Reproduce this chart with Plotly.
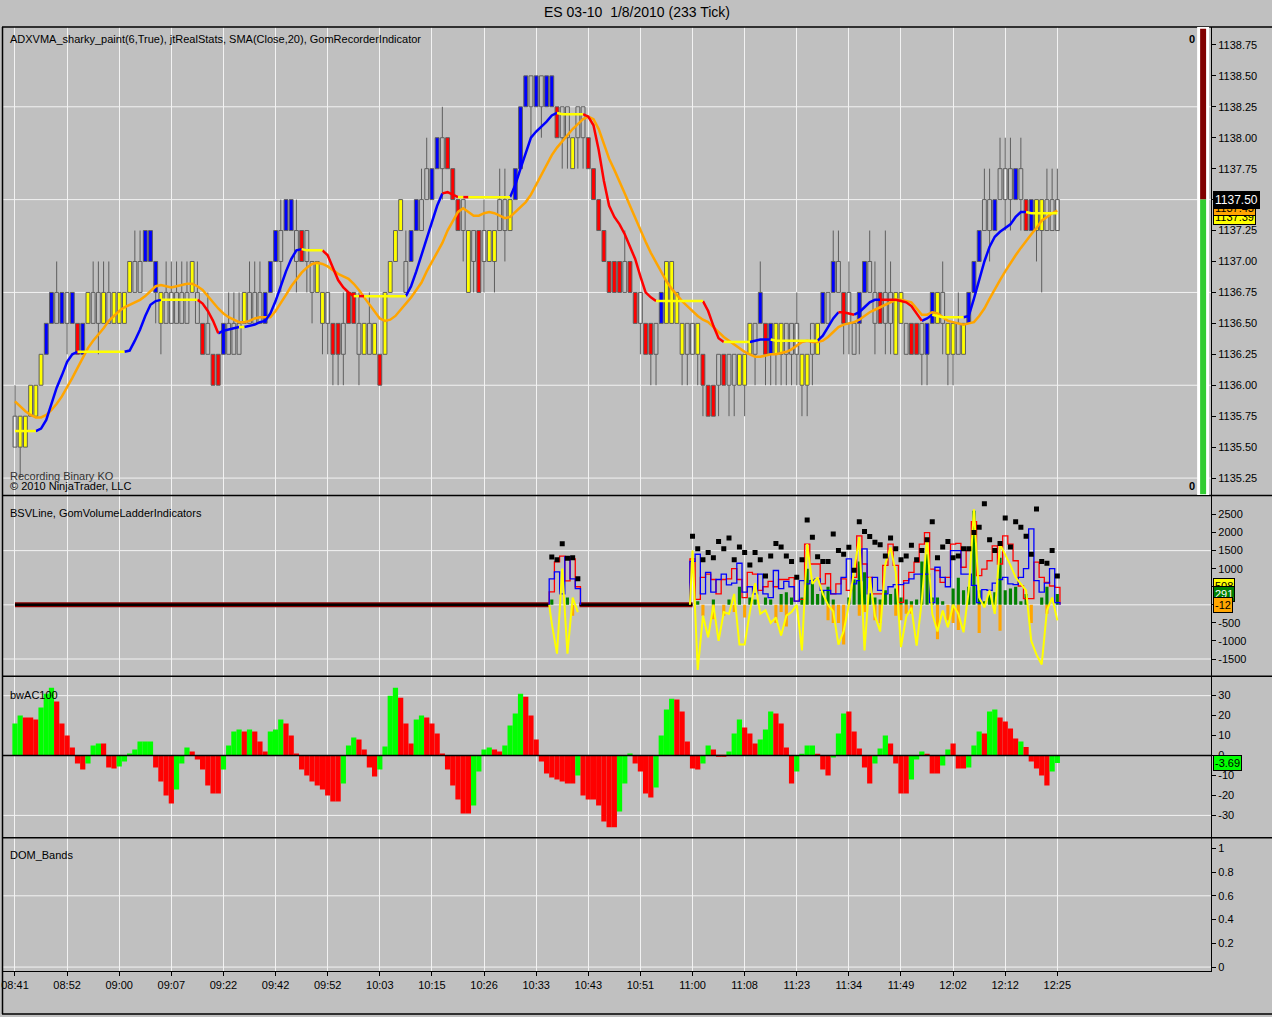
import plotly.graph_objects as go

W, H = 1272, 1017
BG = '#C0C0C0'
FONT = 'Liberation Sans, Arial, sans-serif'

# ---------------- data ----------------
time_labels = ["08:41", "08:52", "09:00", "09:07", "09:22", "09:42", "09:52", "10:03", "10:15",
               "10:26", "10:33", "10:43", "10:51", "11:00", "11:08", "11:23", "11:34", "11:49",
               "12:02", "12:12", "12:25"]
label_bars = [0, 10, 20, 30, 40, 50, 60, 70, 80, 90, 100, 110, 120, 130, 140, 150, 160, 170, 180, 190, 200]

body_lo = [
    1135.50, 1135.50, 1135.50, 1135.75, 1135.75, 1136.00, 1136.25, 1136.50, 1136.50, 1136.50,
    1136.50, 1136.50, 1136.25, 1136.25, 1136.50, 1136.50, 1136.50, 1136.50, 1136.50, 1136.50,
    1136.50, 1136.50, 1136.75, 1136.75, 1136.75, 1137.00, 1137.00, 1136.75, 1136.50, 1136.50,
    1136.50, 1136.50, 1136.50, 1136.50, 1136.75, 1136.50, 1136.25, 1136.25, 1136.00, 1136.00,
    1136.25, 1136.25, 1136.25, 1136.25, 1136.50, 1136.50, 1136.50, 1136.50, 1136.50, 1136.75,
    1137.00, 1137.00, 1137.25, 1137.25, 1137.00, 1137.00, 1137.00, 1136.75, 1136.75, 1136.50,
    1136.50, 1136.25, 1136.25, 1136.25, 1136.50, 1136.50, 1136.25, 1136.25, 1136.25, 1136.25,
    1136.00, 1136.25, 1136.75, 1137.00, 1137.25, 1136.75, 1137.00, 1137.25, 1137.25, 1137.50,
    1137.50, 1137.75, 1137.75, 1137.75, 1137.50, 1137.25, 1137.25, 1136.75, 1137.00, 1136.75,
    1137.00, 1137.00, 1137.00, 1137.25, 1137.25, 1137.25, 1137.50, 1137.75, 1138.25, 1138.25,
    1138.25, 1138.25, 1138.25, 1138.25, 1138.00, 1138.00, 1138.00, 1137.75, 1138.00, 1138.00,
    1137.75, 1137.50, 1137.25, 1137.00, 1136.75, 1136.75, 1136.75, 1136.75, 1136.75, 1136.50,
    1136.50, 1136.25, 1136.25, 1136.25, 1136.50, 1136.50, 1136.50, 1136.50, 1136.25, 1136.25,
    1136.25, 1136.25, 1136.00, 1135.75, 1135.75, 1136.00, 1136.00, 1136.00, 1136.00, 1136.00,
    1136.00, 1136.25, 1136.25, 1136.50, 1136.25, 1136.25, 1136.25, 1136.25, 1136.25, 1136.25,
    1136.25, 1136.00, 1136.00, 1136.25, 1136.25, 1136.50, 1136.50, 1136.75, 1136.75, 1136.50,
    1136.50, 1136.25, 1136.50, 1136.75, 1136.75, 1136.50, 1136.50, 1136.50, 1136.50, 1136.25,
    1136.50, 1136.25, 1136.25, 1136.25, 1136.25, 1136.25, 1136.50, 1136.50, 1136.50, 1136.25,
    1136.25, 1136.25, 1136.25, 1136.50, 1136.75, 1137.00, 1137.25, 1137.25, 1137.25, 1137.50,
    1137.50, 1137.50, 1137.50, 1137.50, 1137.25, 1137.25, 1137.25, 1137.25, 1137.25, 1137.25, 1137.25]

body_hi = [
    1135.75, 1135.75, 1135.75, 1136.00, 1136.00, 1136.25, 1136.50, 1136.75, 1136.75, 1136.75,
    1136.75, 1136.75, 1136.50, 1136.50, 1136.75, 1136.75, 1136.75, 1136.75, 1136.75, 1136.75,
    1136.75, 1136.75, 1137.00, 1137.00, 1137.00, 1137.25, 1137.25, 1137.00, 1136.75, 1136.75,
    1136.75, 1136.75, 1136.75, 1136.75, 1137.00, 1136.75, 1136.50, 1136.50, 1136.25, 1136.25,
    1136.50, 1136.50, 1136.50, 1136.50, 1136.75, 1136.75, 1136.75, 1136.75, 1136.75, 1137.00,
    1137.25, 1137.25, 1137.50, 1137.50, 1137.25, 1137.25, 1137.25, 1137.00, 1137.00, 1136.75,
    1136.75, 1136.50, 1136.50, 1136.50, 1136.75, 1136.75, 1136.50, 1136.50, 1136.50, 1136.50,
    1136.25, 1136.75, 1137.00, 1137.25, 1137.50, 1137.00, 1137.25, 1137.50, 1137.50, 1137.75,
    1137.75, 1138.00, 1138.00, 1138.00, 1137.75, 1137.50, 1137.50, 1137.25, 1137.25, 1137.25,
    1137.25, 1137.25, 1137.25, 1137.50, 1137.50, 1137.50, 1137.75, 1138.25, 1138.50, 1138.50,
    1138.50, 1138.50, 1138.50, 1138.50, 1138.25, 1138.25, 1138.25, 1138.00, 1138.25, 1138.25,
    1138.00, 1137.75, 1137.50, 1137.25, 1137.00, 1137.00, 1137.00, 1137.00, 1137.00, 1136.75,
    1136.75, 1136.50, 1136.50, 1136.50, 1136.75, 1137.00, 1137.00, 1136.75, 1136.50, 1136.50,
    1136.50, 1136.50, 1136.25, 1136.00, 1136.00, 1136.25, 1136.25, 1136.25, 1136.25, 1136.25,
    1136.25, 1136.50, 1136.50, 1136.75, 1136.50, 1136.50, 1136.50, 1136.50, 1136.50, 1136.50,
    1136.50, 1136.25, 1136.25, 1136.50, 1136.50, 1136.75, 1136.75, 1137.00, 1137.00, 1136.75,
    1136.75, 1136.50, 1136.75, 1137.00, 1137.00, 1136.75, 1136.75, 1136.75, 1136.75, 1136.75,
    1136.75, 1136.50, 1136.50, 1136.50, 1136.50, 1136.50, 1136.75, 1136.75, 1136.75, 1136.50,
    1136.50, 1136.50, 1136.50, 1136.75, 1137.00, 1137.25, 1137.50, 1137.50, 1137.50, 1137.75,
    1137.75, 1137.75, 1137.75, 1137.75, 1137.50, 1137.50, 1137.50, 1137.50, 1137.50, 1137.50, 1137.50]

# body paint: B blue, R red, Y yellow, H hollow
bar_paint = ("HYYYYYBBHB" "HBRBYHHYHY" "YYYHHBBBYH" "HHHHYHRHRR" "BHHHYHHHBB"
             "BHBBHRHHYY" "HRRHRRHYHY" "RYYYYHBBHH" "BBHRRRHYHR" "HYYHHYBBBH"
             "BHBBRHHYHH" "RRRRRRRHRR" "HRRHBYYYYH" "HYRRRHRHHY" "YYHBRBYYHH"
             "HYYHYBHBHR" "HHBBHHRHHY" "YHRRHBBYHY" "YHYBBBHHBH" "HHBHRBYYHHH")
# wick extension beyond the body, in ticks
wick_up_ticks = ("1000000010" "0000011110" "0001100001" "1111010100" "0111011100"
                 "0100100000" "0001001010" "0000010011" "0010000000" "1001100000"
                 "0000000000" "0000000100" "0000000000" "0000000000" "0001000000"
                 "1000000110" "1000110210" "0000000010" "0100001101" "11010000111")
wick_dn_ticks = ("0100000000" "1000001000" "0000000110" "0000000000" "0000000000"
                 "0100101101" "1111001000" "0000000000" "0010001010" "1010100001"
                 "0100011011" "0000000000" "1011000011" "0110010110" "1010111111"
                 "1111000001" "1010010110" "0000110011" "1000000100" "11010012000")
TICK = 0.25

sma20 = [
    1135.87, 1135.83, 1135.79, 1135.76, 1135.74, 1135.74, 1135.76, 1135.80, 1135.85, 1135.91,
    1135.98, 1136.06, 1136.14, 1136.22, 1136.30, 1136.36, 1136.41, 1136.46, 1136.52, 1136.56,
    1136.60, 1136.63, 1136.65, 1136.67, 1136.69, 1136.72, 1136.76, 1136.80, 1136.81, 1136.80,
    1136.79, 1136.80, 1136.81, 1136.82, 1136.82, 1136.80, 1136.77, 1136.72, 1136.67, 1136.62,
    1136.58, 1136.55, 1136.53, 1136.51, 1136.51, 1136.52, 1136.54, 1136.55, 1136.55, 1136.55,
    1136.60, 1136.66, 1136.73, 1136.80, 1136.86, 1136.91, 1136.95, 1136.98, 1136.99, 1136.98,
    1136.96, 1136.93, 1136.90, 1136.88, 1136.86, 1136.82, 1136.77, 1136.71, 1136.65, 1136.59,
    1136.54, 1136.52, 1136.53, 1136.56, 1136.61, 1136.66, 1136.71, 1136.77, 1136.83, 1136.92,
    1137.00, 1137.08, 1137.15, 1137.25, 1137.33, 1137.40, 1137.43, 1137.40, 1137.37, 1137.37,
    1137.39, 1137.40, 1137.39, 1137.37, 1137.35, 1137.36, 1137.40, 1137.44, 1137.48, 1137.54,
    1137.62, 1137.70, 1137.78, 1137.86, 1137.92, 1137.97, 1138.02, 1138.07, 1138.11, 1138.15,
    1138.17, 1138.15, 1138.07, 1137.95, 1137.83, 1137.74, 1137.65, 1137.55, 1137.45, 1137.35,
    1137.25, 1137.16, 1137.07, 1136.99, 1136.91, 1136.84, 1136.78, 1136.73, 1136.68, 1136.64,
    1136.60, 1136.56, 1136.53, 1136.51, 1136.47, 1136.43, 1136.39, 1136.36, 1136.33, 1136.30,
    1136.27, 1136.25, 1136.23, 1136.23, 1136.24, 1136.25, 1136.25, 1136.26, 1136.27, 1136.29,
    1136.32, 1136.35, 1136.36, 1136.35, 1136.35, 1136.36, 1136.39, 1136.43, 1136.47, 1136.49,
    1136.50, 1136.51, 1136.53, 1136.56, 1136.59, 1136.61, 1136.63, 1136.65, 1136.67, 1136.69,
    1136.69, 1136.68, 1136.67, 1136.62, 1136.57, 1136.57, 1136.59, 1136.58, 1136.55, 1136.52,
    1136.51, 1136.50, 1136.49, 1136.50, 1136.51, 1136.56, 1136.62, 1136.70, 1136.78, 1136.85,
    1136.92, 1136.99, 1137.05, 1137.11, 1137.17, 1137.22, 1137.27, 1137.33, 1137.36, 1137.39, 1137.41]

adxvma = [
    1135.63, 1135.63, 1135.63, 1135.63, 1135.63, 1135.65, 1135.72, 1135.85, 1135.98, 1136.08,
    1136.19, 1136.25, 1136.27, 1136.27, 1136.27, 1136.27, 1136.27, 1136.27, 1136.27, 1136.27,
    1136.27, 1136.27, 1136.28, 1136.36, 1136.45, 1136.56, 1136.65, 1136.68, 1136.69, 1136.69,
    1136.69, 1136.69, 1136.69, 1136.69, 1136.69, 1136.69, 1136.66, 1136.60, 1136.52, 1136.42,
    1136.44, 1136.45, 1136.46, 1136.47, 1136.47, 1136.48, 1136.49, 1136.51, 1136.52, 1136.58,
    1136.68, 1136.80, 1136.92, 1137.02, 1137.09, 1137.10, 1137.09, 1137.09, 1137.09, 1137.09,
    1137.05, 1136.95, 1136.85, 1136.79, 1136.75, 1136.72, 1136.72, 1136.72, 1136.72, 1136.72,
    1136.72, 1136.72, 1136.72, 1136.72, 1136.72, 1136.72, 1136.80, 1136.92, 1137.05, 1137.19,
    1137.32, 1137.45, 1137.55, 1137.56, 1137.54, 1137.52, 1137.52, 1137.52, 1137.52, 1137.52,
    1137.52, 1137.52, 1137.52, 1137.52, 1137.52, 1137.52, 1137.62, 1137.75, 1137.88, 1138.00,
    1138.05, 1138.09, 1138.13, 1138.18, 1138.20, 1138.19, 1138.19, 1138.19, 1138.19, 1138.19,
    1138.17, 1138.10, 1137.90, 1137.65, 1137.45, 1137.36, 1137.30, 1137.22, 1137.12, 1137.02,
    1136.88, 1136.75, 1136.71, 1136.68, 1136.68, 1136.68, 1136.68, 1136.68, 1136.68, 1136.68,
    1136.68, 1136.68, 1136.68, 1136.60, 1136.48, 1136.38, 1136.35, 1136.35, 1136.35, 1136.35,
    1136.35, 1136.35, 1136.36, 1136.37, 1136.37, 1136.37, 1136.36, 1136.36, 1136.36, 1136.36,
    1136.36, 1136.36, 1136.36, 1136.36, 1136.36, 1136.40, 1136.47, 1136.54, 1136.59, 1136.59,
    1136.58, 1136.57, 1136.59, 1136.63, 1136.67, 1136.69, 1136.69, 1136.69, 1136.69, 1136.69,
    1136.68, 1136.67, 1136.64, 1136.58, 1136.52, 1136.54, 1136.57, 1136.56, 1136.55, 1136.55,
    1136.55, 1136.55, 1136.55, 1136.56, 1136.70, 1136.85, 1137.00, 1137.12, 1137.20, 1137.24,
    1137.27, 1137.30, 1137.36, 1137.40, 1137.40, 1137.39, 1137.39, 1137.39, 1137.39, 1137.39, 1137.39]
adx_paint = ("YYYYYBBBBB" "BBBYYYYYYY" "YYBBBBBBBY" "YYYYYYRRRR" "BBBBYBBBBB"
             "BBBBBBYYYY" "RRRRRRYRYY" "YYYYYYBBBB" "BBBRRRYRYY" "YYYYYYBBBB"
             "BBBBBYYYYY" "RRRRRRRRRR" "RRRRYYYYYY" "YYYRRRRYYY" "YYBBBBYYYY"
             "YYYYYBBBBR" "RRBBBBBRRR" "RRRRRBBYYY" "YYYBBBBBBB" "BBBBBYYYYYY")

# BSVLine / GomVolumeLadder (only where volume was recorded)
bsv_bars = list(range(103, 109)) + list(range(130, 201))
bsv_flat_ranges = [(0, 102.6), (108.3, 130)]
bsv_red = [360, 1190, 1350, 660, 1270, 500,
           1270, 150, 760, 850, 700, 300, 700, 720, 1000, 700, 200, 900, 850, 400, 500, 650, 500, 700, 700, 750, 100,
           150, 1680, 1130, 1130, 580, 860, 300, 580, 720, 400, 760, 1910, 1130, 760, 300, 300, 1090, 1680, 1090, 70,
           670, 900, 1180, 1680, 2000, 990, 950, 620, 760, 1680, 1700, 1040, 1500, 2300, 810, 990, 1220, 1630, 1130, 1910,
           1680, 1220, 520, 170, 170, 1180, 760, 620, 520, 480]
bsv_blue = [720, 910, 300, 1330, 720, 450,
            1200, 1400, 300, 900, 350, 700, 850, 550, 600, 1150, 350, 500, 300, 850, 300, 200, 950, 450, 650, 500, 100,
            670, 580, 670, 720, 400, 400, 300, 300, 760, 1270, 580, 670, 1550, 300, 760, 400, 300, 500, 560, 560,
            600, 720, 850, 850, 850, 60, 1040, 760, 500, 1500, 1500, 850, 850, 540, 60, 420, 400, 600, 700, 760,
            580, 560, 760, 1000, 2100, 670, 350, 600, 1000, 60]
bsv_dots = [1320, 1250, 1690, 1290, 1300, 720,
            1900, 1550, 1250, 1450, 1300, 1750, 1550, 1850, 1250, 1600, 1450, 1100, 1450, 1250, 800, 1350, 1700, 1600, 1350, 1200, 760,
            1250, 2350, 1870, 1330, 1200, 1200, 1960, 1500, 1400, 1590, 960, 2300, 2030, 1890, 1730, 1660, 1350, 1850, 1550, 1250,
            1350, 1650, 1250, 1500, 1800, 2300, 1300, 1600, 1750, 1300, 1350, 1550, 1550, 2000, 2150, 2800, 1800, 1500, 1700, 2400,
            1600, 2300, 2150, 1900, 1400, 2650, 1200, 1150, 1500, 800]
bsv_yellow = [-520, -1350, 1000, -1350, 200, -200,
              1500, -1800, -300, -900, 0, -1000, -200, -250, 300, -1100, -1100, -200, 600, -250, -150, -500, -350, -850, -300, -200, 0,
              -1260, 1680, 580, 760, 300, 0, -180, -1100, -730, 0, 950, 1870, -1260, 760, -300, -740, 1130, 1590, 900, -1170,
              -330, -80, -1130, 120, 1870, -250, -740, -160, -620, 0, -250, -760, 400, 2640, 200, -70, 400, -250, 1680, 1400,
              1100, 760, 580, 400, -1000, -1380, -1650, -160, 200, -430]
bsv_green = [150, 0, 0, 200, 0, 0,
             0, 100, 0, 0, 150, 0, 0, 150, 0, 500, 0, 200, 150, 0, 200, 150, 0, 300, 350, 200, 0,
             200, 1000, 700, 300, 400, 500, 150, 0, 0, 200, 700, 1200, 900, 300, 200, 150, 400, 300, 450, 200,
             150, 100, 150, 1200, 1400, 200, 200, 100, 0, 450, 750, 400, 500, 2600, 400, 100, 300, 350, 1300, 400,
             450, 500, 100, 300, 0, 0, 200, 500, 0, 300]
bsv_orange = [0, 0, 0, 0, -300, 0,
              0, 0, -300, 0, -400, 0, -300, 0, -200, 0, -350, 0, 0, 0, 0, 0, -500, -200, -600, 0, 0,
              0, 0, 0, 0, 0, -430, -500, -500, -1100, 0, 0, -300, -200, 0, -430, -500, 0, 0, -300, -430,
              -250, -250, 0, 0, 0, 0, -950, 0, -430, -500, -700, 0, 0, 0, -780, 0, 0, 0, -720, 0,
              0, 0, 0, 0, -500, 0, 0, -250, 0, 0]

bwac = [16, 20, 19, 19, 18, 24, 31, 34, 27, 16,
        10, 4, -4, -7, -4, 5, 6, 6, -6, -6.5,
        -5.5, -3, 1, 3, 7, 7, 7, -6, -13, -20,
        -24, -17, -4, 4, 2, -2, -7, -15, -19, -19,
        -7, 5, 12, 13, 12, 13, 12, 7, 2, 12,
        13, 18, 16, 10, 1, -7, -10, -13, -15, -17,
        -20, -23, -23, -14, 5, 9, 8, 3, -6, -10.5,
        -7, 4.5, 30, 34, 29, 16, 6, 18, 20, 19,
        16, 11, 1, -7, -15, -22, -29, -29, -25, -8,
        3, 4, 3, 2, 5, 15, 21, 31, 29.5, 20,
        8, -3, -9, -11, -12, -13, -14, -14, -10, -20,
        -22, -22, -25, -33, -36, -36, -28, -14, 1, -4,
        -8, -19, -21, -16, 10, 23, 28.5, 28, 22, 7,
        -6.5, -7, -4, 5, 3, -0.5, -0.5, 2, 11, 18,
        14, 11, 6, 8, 13, 22, 21, 16, 4, -14,
        -8, 0.5, 5, 5, 0.5, -7, -10, -1, 11, 21,
        22, 12, 3.5, -6, -14, -4, 3.5, 10, 6, -4,
        -19, -19, -12, -2, 2, 0.5, -9, -9, -5, 3,
        6, -6.5, -6.5, -6, 5, 12, 11, 22, 23, 19,
        17, 13.5, 8.5, 7, 4.3, -3, -6.5, -10, -15, -8, -3.69]
bwac_paint = ("GGRRRGGGRR" "RRRRGGGRRR" "GGGGGGGRRR" "RGGGRRRRRR" "GGGGRGRRRG"
              "GGRRRRRRRR" "RRRGGGRRRR" "GGGGRRRGGR" "RRRRRRRRGG" "GGRRGGGGRR"
              "RRRRRRRRGR" "RRRRRRGGGR" "RRRGGGGRRR" "RRGGRRRGGG" "RRRGGGRRRR"
              "GGGGRRRGGG" "RRRRRGGGRR" "RRGGGRRRGG" "RRRGGGRGGR" "RRRGRRRRRGG")

price_ticks = [1135.25, 1135.50, 1135.75, 1136.00, 1136.25, 1136.50, 1136.75, 1137.00, 1137.25,
               1137.50, 1137.75, 1138.00, 1138.25, 1138.50, 1138.75]
price_grid = [1135.25, 1136.00, 1136.75, 1137.50, 1138.25]
bsv_ticks = [-1500, -1000, -500, 0, 500, 1000, 1500, 2000, 2500]
bsv_tick_text = ['-1500', '-1000', '-500', '', '', '1000', '1500', '2000', '2500']  # 0 and 500 hidden under the value tags
bsv_grid = [-1500, 0, 1500]
bwac_ticks = [-30, -20, -10, 0, 10, 20, 30]
bwac_grid = [-30, 30]
dom_ticks = [0, 0.2, 0.4, 0.6, 0.8, 1]
dom_grid = [0, 0.6]

last_price = 1137.50
last_sma = 1137.43
last_adx = 1137.39
bsv_last = [(508, '#FFFF00', 'black'), (291, '#008000', 'white'), (-12, '#FFA500', 'black')]
bwac_last = -3.69

# ---------------- geometry helpers ----------------
def py(p):
    return 1 - p / H

def pxp(p):
    return p / W

X_RANGE = [-2.3, 229.5]
X_DOMAIN = [pxp(1), pxp(1211)]

fig = go.Figure()
n = len(body_lo)
bars = list(range(n))
PAINT = {'B': '#0000FF', 'R': '#FF0000', 'Y': '#FFFF00', 'H': 'rgba(0,0,0,0)'}

# wicks (outside the body only)
wx, wy = [], []
for i in bars:
    hi = body_hi[i] + TICK * int(wick_up_ticks[i])
    lo = body_lo[i] - TICK * int(wick_dn_ticks[i])
    if hi > body_hi[i]:
        wx += [i, i, None]
        wy += [body_hi[i], hi, None]
    if lo < body_lo[i]:
        wx += [i, i, None]
        wy += [lo, body_lo[i], None]
fig.add_trace(go.Scatter(x=wx, y=wy, mode='lines', line=dict(color='#5E5E5E', width=1),
                         hoverinfo='skip', showlegend=False, xaxis='x', yaxis='y'))
fig.add_trace(go.Bar(x=bars, y=[body_hi[i] - body_lo[i] for i in bars], base=body_lo,
                     width=0.74, marker=dict(color=[PAINT[c] for c in bar_paint],
                                             line=dict(color='#5E5E5E', width=1)),
                     showlegend=False, xaxis='x', yaxis='y'))
fig.add_trace(go.Scatter(x=bars, y=sma20, mode='lines', line=dict(color='#FFA500', width=2.5),
                         showlegend=False, xaxis='x', yaxis='y'))

# ADXVMA painted line
ADX_COL = {'B': '#0000FF', 'R': '#FF0000', 'Y': '#FFFF00'}
runs = []
cur = adx_paint[1]
xs, ys = [0, 1], [adxvma[0], adxvma[1]]
for i in range(2, n):
    if adx_paint[i] == cur:
        xs.append(i)
        ys.append(adxvma[i])
    else:
        runs.append((cur, xs, ys))
        cur = adx_paint[i]
        xs, ys = [i - 1, i], [adxvma[i - 1], adxvma[i]]
runs.append((cur, xs, ys))
for k, col in ADX_COL.items():
    tx, ty = [], []
    for c, rx, ry in runs:
        if c == k:
            tx += rx + [None]
            ty += ry + [None]
    fig.add_trace(go.Scatter(x=tx, y=ty, mode='lines', line=dict(color=col, width=2.5),
                             showlegend=False, xaxis='x', yaxis='y'))

# ---------------- BSV panel ----------------
for a, b in bsv_flat_ranges:
    fig.add_trace(go.Scatter(x=[a, b], y=[0, 0], mode='lines', line=dict(color='#8B0000', width=5),
                             showlegend=False, xaxis='x2', yaxis='y2'))
    fig.add_trace(go.Scatter(x=[a, b], y=[0, 0], mode='lines', line=dict(color='#000000', width=2.5),
                             showlegend=False, xaxis='x2', yaxis='y2'))

fig.add_trace(go.Bar(x=bsv_bars, y=bsv_green, width=0.6, marker=dict(color='#008000', line=dict(width=0)),
                     showlegend=False, xaxis='x2', yaxis='y2'))
fig.add_trace(go.Bar(x=bsv_bars, y=bsv_orange, width=0.6, marker=dict(color='#FFA500', line=dict(width=0)),
                     showlegend=False, xaxis='x2', yaxis='y2'))

# split into bursts
bursts = []
start = 0
for k in range(1, len(bsv_bars) + 1):
    if k == len(bsv_bars) or bsv_bars[k] != bsv_bars[k - 1] + 1:
        bursts.append((start, k))
        start = k

def steps(vals):
    sx, sy = [], []
    for s, e in bursts:
        idx = bsv_bars[s:e]
        v = vals[s:e]
        sx += [idx[0] - 0.5] + [i - 0.5 for i in idx] + [idx[-1] + 0.5, idx[-1] + 0.5, None]
        sy += [0] + list(v) + [v[-1], 0, None]
    return sx, sy

for vals, col in ((bsv_red, '#FF0000'), (bsv_blue, '#0000FF')):
    sx, sy = steps(vals)
    fig.add_trace(go.Scatter(x=sx, y=sy, mode='lines', line=dict(color=col, width=1.3, shape='hv'),
                             showlegend=False, xaxis='x2', yaxis='y2'))

yx, yy = [], []
for s, e in bursts:
    idx = bsv_bars[s:e]
    yx += [idx[0] - 0.5] + idx + [None]
    yy += [0] + bsv_yellow[s:e] + [None]
fig.add_trace(go.Scatter(x=yx, y=yy, mode='lines', line=dict(color='#FFFF00', width=2),
                         showlegend=False, xaxis='x2', yaxis='y2'))
fig.add_trace(go.Scatter(x=bsv_bars, y=bsv_dots, mode='markers',
                         marker=dict(symbol='square', size=5, color='#000000'),
                         showlegend=False, xaxis='x2', yaxis='y2'))

# ---------------- bwAC100 panel ----------------
fig.add_trace(go.Bar(x=bars, y=bwac, width=1.0,
                     marker=dict(color=['#00FF00' if c == 'G' else '#FF0000' for c in bwac_paint],
                                 line=dict(width=0)),
                     showlegend=False, xaxis='x3', yaxis='y3'))

# ---------------- DOM panel (empty) ----------------
fig.add_trace(go.Scatter(x=[0], y=[0], mode='markers', marker=dict(opacity=0),
                         showlegend=False, hoverinfo='skip', xaxis='x4', yaxis='y4'))

# ---------------- axes ----------------
tick_font = dict(family=FONT, size=11, color='#000000')
xcommon = dict(range=X_RANGE, domain=X_DOMAIN, tickmode='array', tickvals=label_bars,
               showgrid=True, gridcolor='#F2F2F2', gridwidth=1, zeroline=False,
               showline=False, showticklabels=False, ticks='', fixedrange=True)
ycommon = dict(side='right', showgrid=False, zeroline=False, showline=True, linecolor='#000000',
               linewidth=1, ticks='outside', ticklen=4, tickcolor='#000000', tickfont=tick_font,
               tickmode='array', fixedrange=True)

layout = dict(
    width=W, height=H, autosize=False, margin=dict(l=0, r=0, t=0, b=0, pad=0),
    paper_bgcolor=BG, plot_bgcolor=BG, barmode='overlay', showlegend=False,
    font=dict(family=FONT, size=11, color='#000000'),
    xaxis=dict(**xcommon, anchor='y'),
    xaxis2=dict(**xcommon, anchor='y2', matches='x'),
    xaxis3=dict(**xcommon, anchor='y3', matches='x'),
    yaxis=dict(**ycommon, anchor='x', domain=[py(496), py(27)], range=[1135.113, 1138.895],
               tickvals=price_ticks, ticktext=['%.2f' % v for v in price_ticks]),
    yaxis2=dict(**ycommon, anchor='x2', domain=[py(677), py(497)], range=[-1961, 3011],
                tickvals=bsv_ticks, ticktext=bsv_tick_text),
    yaxis3=dict(**ycommon, anchor='x3', domain=[py(839), py(678)], range=[-41, 39.5],
                tickvals=bwac_ticks, ticktext=[str(v) for v in bwac_ticks]),
    yaxis4=dict(**ycommon, anchor='x4', domain=[py(973), py(840)], range=[-0.034, 1.084],
                tickvals=dom_ticks, ticktext=['0', '0.2', '0.4', '0.6', '0.8', '1']),
)
x4 = dict(xcommon)
x4.update(anchor='y4', matches='x', showline=True, linecolor='#000000', linewidth=1,
          showticklabels=True, ticks='outside', ticklen=4, tickcolor='#000000',
          ticktext=time_labels, tickfont=tick_font, ticklabeloverflow='allow')
layout['xaxis4'] = x4
fig.update_layout(**layout)

# ---------------- shapes ----------------
shapes = []
for v in price_grid:
    shapes.append(dict(type='line', xref='x domain', yref='y', x0=0, x1=1, y0=v, y1=v,
                       line=dict(color='#F2F2F2', width=1), layer='below'))
for v in bsv_grid:
    shapes.append(dict(type='line', xref='x2 domain', yref='y2', x0=0, x1=1, y0=v, y1=v,
                       line=dict(color='#F2F2F2', width=1), layer='below'))
for v in bwac_grid:
    shapes.append(dict(type='line', xref='x3 domain', yref='y3', x0=0, x1=1, y0=v, y1=v,
                       line=dict(color='#F2F2F2', width=1), layer='below'))
shapes.append(dict(type='line', xref='x3 domain', yref='y3', x0=0, x1=1, y0=0, y1=0,
                   line=dict(color='#000000', width=1.5), layer='above'))
for v in dom_grid:
    shapes.append(dict(type='line', xref='x4 domain', yref='y4', x0=0, x1=1, y0=v, y1=v,
                       line=dict(color='#F2F2F2', width=1), layer='below'))
# panel borders
for ypx in (27, 496.5, 677.5, 839.5):
    shapes.append(dict(type='line', xref='paper', yref='paper', x0=0, x1=1, y0=py(ypx), y1=py(ypx),
                       line=dict(color='#000000', width=1.5)))
shapes.append(dict(type='line', xref='paper', yref='paper', x0=pxp(0.5), x1=pxp(0.5), y0=py(1016), y1=py(27),
                   line=dict(color='#000000', width=1.5)))
shapes.append(dict(type='line', xref='paper', yref='paper', x0=0, x1=1, y0=py(1016), y1=py(1016),
                   line=dict(color='#000000', width=1.5)))
# jtRealStats bar
shapes.append(dict(type='rect', xref='paper', yref='y', x0=pxp(1197), x1=pxp(1209), y0=1135.113, y1=1138.895,
                   fillcolor='#FFFFFF', line=dict(width=0)))
shapes.append(dict(type='rect', xref='paper', yref='y', x0=pxp(1200), x1=pxp(1206), y0=last_price, y1=1138.88,
                   fillcolor='#800000', line=dict(width=0)))
shapes.append(dict(type='rect', xref='paper', yref='y', x0=pxp(1200), x1=pxp(1206), y0=1135.12, y1=last_price,
                   fillcolor='#33CC33', line=dict(width=0)))
fig.update_layout(shapes=shapes)

# ---------------- annotations ----------------
ann = []

def text(x, y, s, size=11, anchor='left', bold=False, color='#000000'):
    ann.append(dict(xref='paper', yref='paper', x=pxp(x), y=py(y), text=('<b>%s</b>' % s) if bold else s,
                    showarrow=False, xanchor=anchor, yanchor='middle',
                    font=dict(family=FONT, size=size, color=color)))

text(636, 12, 'ES 03-10  1/8/2010 (233 Tick)', size=14, anchor='center')
text(6, 39, 'ADXVMA_sharky_paint(6,True), jtRealStats, SMA(Close,20), GomRecorderIndicator')
text(6, 477, 'Recording Binary KO', color='#333333')
text(6, 487, '\u00a9 2010 NinjaTrader, LLC')
text(6, 514, 'BSVLine, GomVolumeLadderIndicators')
text(6, 696, 'bwAC100')
text(6, 857, 'DOM_Bands')
text(1192, 39, '0', bold=True, anchor='center')
text(1192, 487, '0', bold=True, anchor='center')

def tag(yref, yv, s, bg, fg, size=11):
    ann.append(dict(xref='paper', yref=yref, x=pxp(1213), y=yv, text=s, showarrow=False,
                    xanchor='left', yanchor='middle', bgcolor=bg, bordercolor='#000000', borderwidth=1,
                    borderpad=1, font=dict(family=FONT, size=size, color=fg)))

tag('y', last_adx - 0.03, '%.2f' % last_adx, '#FFFF00', '#000000')
tag('y', last_sma, '%.2f' % last_sma, '#FFA500', '#000000')
tag('y', last_price, '%.2f' % last_price, '#000000', '#FFFFFF', size=12)
for v, bg, fg in bsv_last:
    tag('y2', v, str(v), bg, fg)
tag('y3', bwac_last, '%.2f' % bwac_last, '#00FF00', '#000000')
fig.update_layout(annotations=ann)

fig.write_html("out.html", config={'displayModeBar': False},
               post_script="document.body.style.margin='0';document.body.style.overflow='hidden';")
